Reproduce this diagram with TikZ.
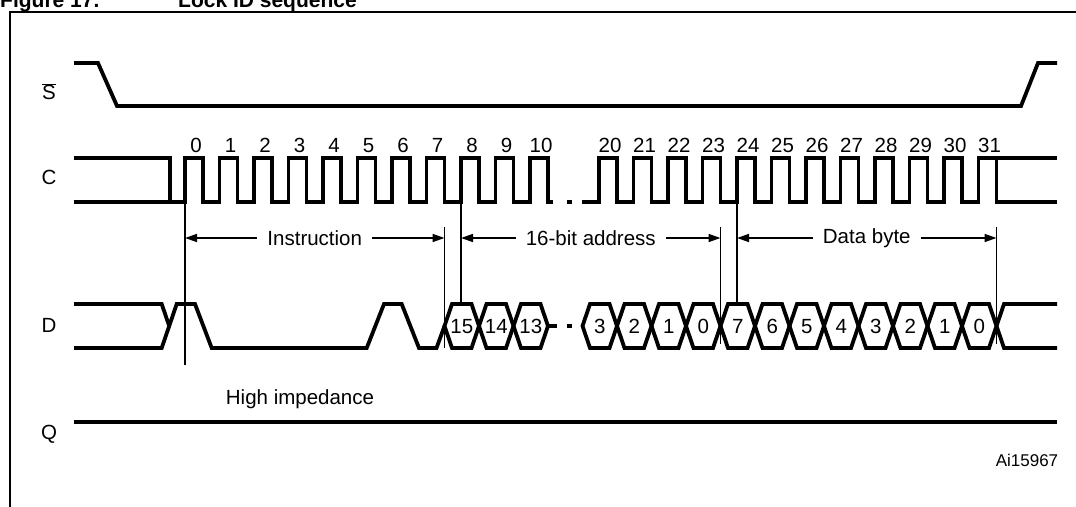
\documentclass[tikz,border=0pt]{standalone}
\usepackage{fontspec}
\setmainfont{Liberation Sans}
\usetikzlibrary{arrows.meta,calc}
\begin{document}
\begin{tikzpicture}[x=1pt,y=-1pt,
  sig/.style={line width=3.8pt, line join=miter, line cap=butt},
  marker/.style={line width=1.4pt},
  dim/.style={line width=1.5pt, {Triangle[length=12pt,width=8pt]}-{Triangle[length=12pt,width=8pt]}},
  lbl/.style={font=\fontsize{20.5}{23}\selectfont, inner sep=0pt, anchor=base},
  dimlbl/.style={font=\fontsize{20.5}{23}\selectfont, fill=white, inner xsep=10pt, inner ysep=2pt},
  ttl/.style={font=\bfseries\fontsize{21}{25}\selectfont, inner sep=0pt, anchor=base west},
  frame/.style={line width=2.5pt}
]
\useasboundingbox (0,0) rectangle (1076,506);
% title (cut off at the top, as in the reference)
\node[ttl] (t1) at (0,8) {Figure 17.};
\node[ttl] (t2) at (178,8) {Lock ID sequence};
% frame
\draw[frame] (1080,12) -- (10,12) -- (10,510);
% signal names
\node[lbl] (nS) at (49,99.5) {$\overline{\mbox{S}}$};
\node[lbl] (nC) at (49,184.5) {C};
\node[lbl] (nD) at (49,332.5) {D};
\node[lbl] (nQ) at (49,439.5) {Q};
% S bar
\draw[sig] (74,63) -- (98,63) -- (117,106) -- (1021,106) -- (1038,63) -- (1057,63);
% C
\draw[sig] (74,158) -- (170,158) -- (170,202);
\draw[sig] (74,202) \foreach \n in {0,...,10} {
   -- ({185+34.5*\n},202) -- ({185+34.5*\n},158) -- ({203+34.5*\n},158) -- ({203+34.5*\n},202)} -- (553,202);
\draw[sig] (567,202) -- (572,202);
\draw[sig] (582,202) \foreach \n in {12,...,23} {
   -- ({185+34.5*\n},202) -- ({185+34.5*\n},158) -- ({203+34.5*\n},158) -- ({203+34.5*\n},202)} -- (1057,202);
\draw[sig] (996.5,158) -- (1057,158);
\foreach \k/\n in {0/0,1/1,2/2,3/3,4/4,5/5,6/6,7/7,8/8,9/9,10/10,20/12,21/13,22/14,23/15,24/16,25/17,26/18,27/19,28/20,29/21,30/22,31/23}
  \node[lbl] (c\k) at ({196+34.5*\n},152.5) {\k};
% D
\draw[sig] (74,304) -- (161.7,304) -- (169.2,326);
\draw[sig] (74,348) -- (161.7,348) -- (176.7,304) -- (195,304) -- (211.7,348) -- (366.7,348) -- (384,304) -- (401.7,304) -- (419,348) -- (436.5,348) -- (444.5,326);
\foreach \i/\t in {0/15,1/14,2/13} {
  \pgfmathsetmacro{\ba}{444.5+34.5*\i}
  \pgfmathsetmacro{\bb}{\ba+34.5}
  \draw[sig] (\ba,326) -- (\ba+7.5,304) -- (\bb-7.5,304) -- (\bb,326) -- (\bb-7.5,348) -- (\ba+7.5,348) -- cycle;
  \node[lbl] (da\i) at ({\ba+17.25},333.3) {\t};
}
\draw[sig] (548,326) -- (557,326);
\draw[sig] (567,326) -- (572,326);
\foreach \i/\t in {0/3,1/2,2/1,3/0,4/7,5/6,6/5,7/4,8/3,9/2,10/1,11/0} {
  \pgfmathsetmacro{\ba}{582.5+34.5*\i}
  \pgfmathsetmacro{\bb}{\ba+34.5}
  \draw[sig] (\ba,326) -- (\ba+7.5,304) -- (\bb-7.5,304) -- (\bb,326) -- (\bb-7.5,348) -- (\ba+7.5,348) -- cycle;
  \node[lbl] (db\i) at ({\ba+17.25},333.3) {\t};
}
\draw[sig] (1057,304) -- (1004,304) -- (996.5,326) -- (1004,348) -- (1057,348);
% markers
\draw[marker] (185,202) -- (185,365);
\draw[marker] (444.5,227) -- (444.5,348);
\draw[marker] (461,202) -- (461,304);
\draw[marker] (720.5,227) -- (720.5,344);
\draw[marker] (737,202) -- (737,304);
\draw[marker] (996.5,227) -- (996.5,344);
% dimension arrows
\coordinate (i1) at (185,238);
\coordinate (i2) at (444.5,238);
\coordinate (a1) at (461,238);
\coordinate (a2) at (720.5,238);
\coordinate (b1) at (737,238);
\coordinate (b2) at (996.5,238);
\draw[dim] (i1) -- (i2);
\node[dimlbl] (li) at ($(i1)!0.5!(i2)$) {Instruction};
\draw[dim] (a1) -- (a2);
\node[dimlbl] (la) at ($(a1)!0.5!(a2)$) {16-bit address};
\draw[dim] (b1) -- (b2);
\node[dimlbl] (lb) at ($(b1)!0.5!(b2)$) {Data byte};
% Q
\draw[line width=3.5pt] (74,422) -- (1057,422);
\node[lbl] (hz) at (300,404.5) {High impedance};
\node[lbl, font=\fontsize{17}{20}\selectfont] (ai) at (1027,466) {Ai15967};
\end{tikzpicture}
\end{document}
